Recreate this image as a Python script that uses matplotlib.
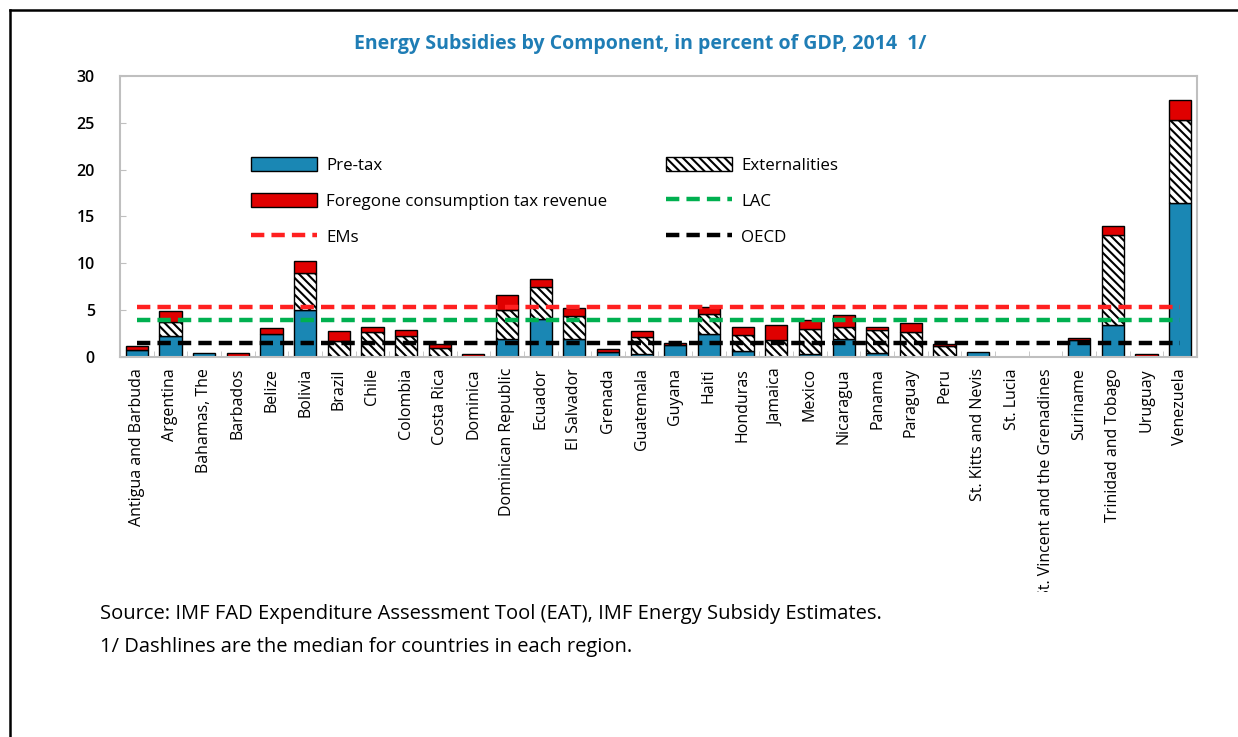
import numpy as np
import matplotlib
matplotlib.use('Agg')
import matplotlib.pyplot as plt
from matplotlib.lines import Line2D
from matplotlib.patches import Patch, Rectangle

# Data (percent of GDP, 2014)
countries = ['Antigua and Barbuda', 'Argentina', 'Bahamas, The', 'Barbados', 'Belize',
             'Bolivia', 'Brazil', 'Chile', 'Colombia', 'Costa Rica', 'Dominica',
             'Dominican Republic', 'Ecuador', 'El Salvador', 'Grenada', 'Guatemala',
             'Guyana', 'Haiti', 'Honduras', 'Jamaica', 'Mexico', 'Nicaragua', 'Panama',
             'Paraguay', 'Peru', 'St. Kitts and Nevis', 'St. Lucia',
             'St. Vincent and the Grenadines', 'Suriname', 'Trinidad and Tobago',
             'Uruguay', 'Venezuela']
pretax = [0.75, 2.2, 0.45, 0, 2.5, 5.0, 0, 0, 0, 0, 0, 1.95, 4.05, 1.95, 0.5, 0.3,
          1.3, 2.5, 0.6, 0, 0.3, 1.9, 0.45, 0, 0, 0.55, 0, 0, 1.85, 3.45, 0, 16.4]
externalities = [0, 1.5, 0, 0, 0, 4.0, 1.7, 2.7, 2.2, 0.95, 0, 3.05, 3.4, 2.45, 0, 1.8,
                 0, 2.1, 1.7, 1.8, 2.7, 1.3, 2.4, 2.7, 1.15, 0, 0, 0, 0, 9.6, 0, 8.9]
foregone = [0.4, 1.25, 0, 0.4, 0.6, 1.2, 1.05, 0.5, 0.7, 0.45, 0.3, 1.6, 0.9, 0.85, 0.35, 0.7,
            0.2, 0.7, 0.95, 1.65, 0.9, 1.3, 0.4, 0.9, 0.25, 0, 0, 0, 0.2, 0.9, 0.3, 2.1]
median_ems = 5.3
median_lac = 4.0
median_oecd = 1.5

BLUE = '#1A87B4'
RED = '#E00000'
HATCH = '\\\\\\\\'


def plot_energy_subsidies():
    plt.rcParams['font.family'] = ['Open Sans', 'DejaVu Sans']
    plt.rcParams['hatch.linewidth'] = 1.5

    fig = plt.figure(figsize=(12.38, 7.37), dpi=100)
    ax = fig.add_axes([0.0969, 0.5156, 0.8700, 0.3813])

    x = np.arange(len(countries))
    pre = np.array(pretax)
    ext = np.array(externalities)
    fgn = np.array(foregone)
    w = 0.66

    ax.bar(x, pre, w, color=BLUE, edgecolor='black',
           linewidth=np.where(pre > 0, 1.0, 0), zorder=2)
    ax.bar(x, ext, w, bottom=pre, color='white', edgecolor='black', hatch=HATCH,
           linewidth=np.where(ext > 0, 1.0, 0), zorder=2)
    ax.bar(x, fgn, w, bottom=pre + ext, color=RED, edgecolor='black',
           linewidth=np.where(fgn > 0, 1.0, 0), zorder=2)

    dash = dict(linewidth=3.2, dashes=(3.0, 1.6), zorder=3)
    ax.plot(x, np.full(len(x), median_lac), color='#00B050', **dash)
    ax.plot(x, np.full(len(x), median_ems), color='#FF2020', **dash)
    ax.plot(x, np.full(len(x), median_oecd), color='black', **dash)

    ax.set_xlim(-0.5, len(countries) - 0.5)
    ax.set_ylim(0, 30)
    ax.set_yticks(range(0, 31, 5))
    ax.set_xticks(x)
    ax.set_xticks(x[:-1] + 0.5, minor=True)
    ax.tick_params(axis='x', which='major', length=0, pad=8)
    ax.tick_params(axis='x', which='minor', length=4, color='#BFBFBF', direction='in')
    ax.tick_params(axis='y', length=4, color='#BFBFBF', direction='in', pad=18,
                   labelsize=11.5)
    for lbl in ax.get_yticklabels():
        lbl.set_fontweight('semibold')
    labels = ax.set_xticklabels(countries, rotation=90, fontsize=11.5)
    for spine in ax.spines.values():
        spine.set_color('#BFBFBF')
        spine.set_linewidth(1.5)

    # the longest country label is cut off at the bottom in the original
    clip = Rectangle((0, 1 - 592 / 737), 1, 592 / 737, transform=fig.transFigure,
                     visible=False)
    fig.add_artist(clip)
    for lbl in labels:
        lbl.set_clip_path(clip)
        lbl.set_clip_on(True)

    lw = 3.2
    handles = [
        Patch(facecolor=BLUE, edgecolor='black', linewidth=1.0),
        Patch(facecolor=RED, edgecolor='black', linewidth=1.0),
        Line2D([], [], color='#FF2020', linewidth=lw, dashes=(3.0, 1.6)),
        Patch(facecolor='white', edgecolor='black', hatch=HATCH, linewidth=1.0),
        Line2D([], [], color='#00B050', linewidth=lw, dashes=(3.0, 1.6)),
        Line2D([], [], color='black', linewidth=lw, dashes=(3.0, 1.6)),
    ]
    names = ['Pre-tax', 'Foregone consumption tax revenue', 'EMs',
             'Externalities', 'LAC', 'OECD']
    ax.legend(handles, names, ncol=2, loc='upper left',
              bbox_to_anchor=(0.122, 0.712), frameon=False, fontsize=12.2,
              handlelength=3.85, handleheight=0.9, handletextpad=0.55,
              columnspacing=3.5, labelspacing=1.12, borderpad=0, borderaxespad=0)

    fig.text(0.517, 0.940, 'Energy Subsidies by Component, in percent of GDP, 2014  1/',
             ha='center', va='center', fontsize=14, fontweight='bold', color='#1F7DB5')
    fig.text(100 / 1238, 1 - 614 / 737,
             'Source: IMF FAD Expenditure Assessment Tool (EAT), IMF Energy Subsidy Estimates.',
             ha='left', va='center', fontsize=14.5)
    fig.text(100 / 1238, 1 - 647 / 737,
             '1/ Dashlines are the median for countries in each region.',
             ha='left', va='center', fontsize=14.5)

    # outer frame of the figure box (left and top edges visible)
    fig.add_artist(Line2D([10 / 1238, 10 / 1238], [0, 1 - 10 / 737], color='black', lw=1.8))
    fig.add_artist(Line2D([10 / 1238, 1], [1 - 10 / 737, 1 - 10 / 737], color='black', lw=1.8))

    fig.savefig('out.png', dpi=100)
    plt.close(fig)


if __name__ == '__main__':
    plot_energy_subsidies()
